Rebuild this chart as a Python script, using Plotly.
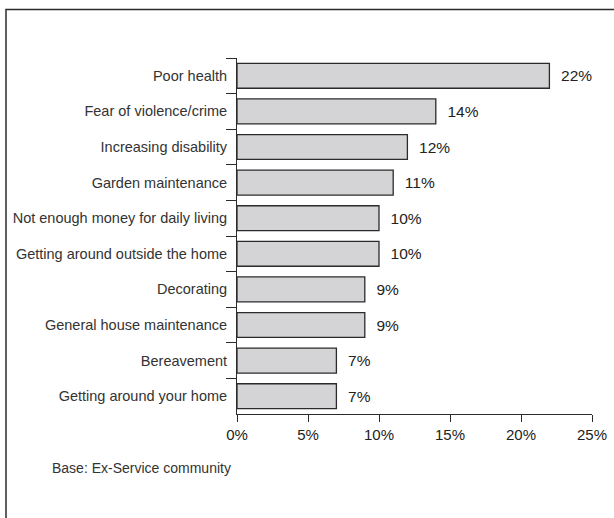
import plotly.graph_objects as go

CATEGORIES = [
    'Poor health',
    'Fear of violence/crime',
    'Increasing disability',
    'Garden maintenance',
    'Not enough money for daily living',
    'Getting around outside the home',
    'Decorating',
    'General house maintenance',
    'Bereavement',
    'Getting around your home',
]
VALUES = [22, 14, 12, 11, 10, 10, 9, 9, 7, 7]
X_TICKS = [0, 5, 10, 15, 20, 25]
X_TICK_LABELS = ['0%', '5%', '10%', '15%', '20%', '25%']
FOOTNOTE = 'Base: Ex-Service community'

BAR_FILL = '#d4d4d6'
LINE_COLOR = '#2b2b2b'
TEXT_COLOR = '#222222'
FONT = 'Liberation Sans, Arial, sans-serif'

fig = go.Figure()
fig.add_trace(go.Bar(
    x=VALUES,
    y=CATEGORIES,
    orientation='h',
    marker_color=BAR_FILL,
    marker_line_color=LINE_COLOR,
    marker_line_width=1.3,
    text=[f'\u00a0\u00a0{v}%' for v in VALUES],
    texttemplate='%{text}',
    textposition='outside',
    textfont={'size': 15.5, 'color': TEXT_COLOR, 'family': FONT},
    cliponaxis=False,
    hoverinfo='skip',
))

# plot area spans x 237..592 px, y 58..414 px
left, right, top, bottom = 237, 22, 58, 104
pw, ph = 614 - left - right, 518 - top - bottom

def px_x(x: float) -> float:
    return (x - left) / pw

def px_y(y: float) -> float:
    return (518 - bottom - y) / ph

fig.update_layout(
    width=614,
    height=518,
    margin={'l': left, 'r': right, 't': top, 'b': bottom, 'pad': 0, 'autoexpand': False},
    paper_bgcolor='white',
    plot_bgcolor='white',
    showlegend=False,
    bargap=0.3,
    font={'family': FONT, 'color': TEXT_COLOR},
    xaxis={
        'range': [0, 25],
        'tickvals': X_TICKS,
        'ticktext': X_TICK_LABELS,
        'showgrid': False,
        'zeroline': False,
        'showline': True,
        'linecolor': LINE_COLOR,
        'linewidth': 1,
        'ticks': 'outside',
        'ticklen': 7,
        'tickcolor': LINE_COLOR,
        'tickfont': {'size': 15, 'color': TEXT_COLOR},
        'automargin': False,
    },
    yaxis={
        'categoryorder': 'array',
        'categoryarray': CATEGORIES,
        'autorange': 'reversed',
        'showgrid': False,
        'showline': True,
        'linecolor': LINE_COLOR,
        'linewidth': 1,
        'ticks': 'outside',
        'tickson': 'boundaries',
        'ticklen': 10,
        'tickcolor': LINE_COLOR,
        'ticklabelstandoff': 6,
        'tickfont': {'size': 14.5, 'color': '#333333'},
        'automargin': False,
    },
    shapes=[{
        'type': 'path',
        'xref': 'paper',
        'yref': 'paper',
        'path': f'M {px_x(6)},{px_y(530)} L {px_x(6)},{px_y(9.5)} L {px_x(630)},{px_y(9.5)}',
        'line': {'color': LINE_COLOR, 'width': 1.5},
    }],
    annotations=[{
        'text': FOOTNOTE,
        'xref': 'paper',
        'yref': 'paper',
        'x': px_x(50),
        'y': px_y(468),
        'xanchor': 'left',
        'yanchor': 'middle',
        'showarrow': False,
        'font': {'size': 14, 'color': '#333333'},
    }],
)

fig.write_html(
    'out.html',
    config={'displayModeBar': False},
    post_script="document.body.style.margin='0';",
)
